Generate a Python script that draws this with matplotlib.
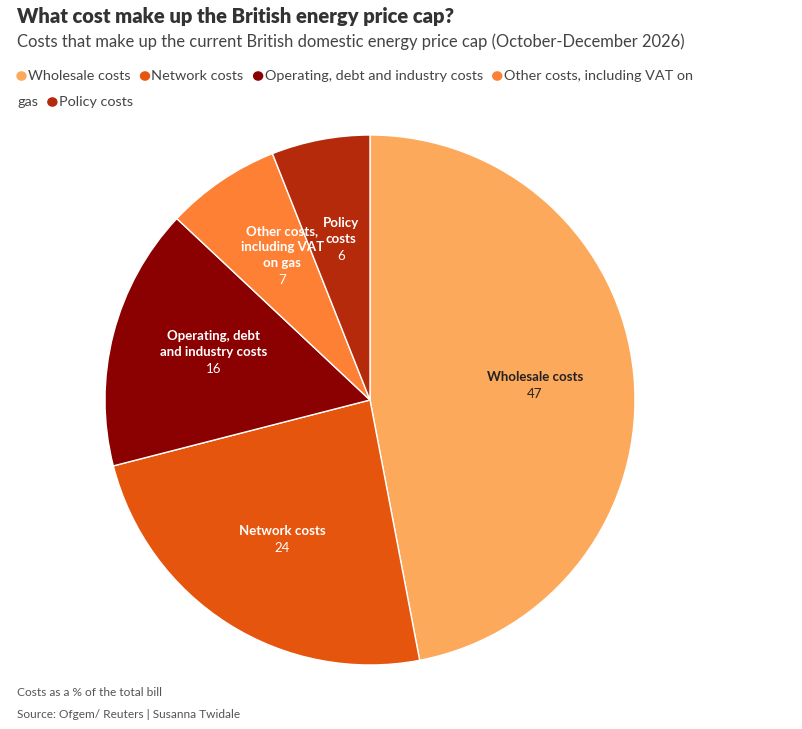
import numpy as np
import matplotlib
matplotlib.use("Agg")
import matplotlib.pyplot as plt

# Data
categories = ["Wholesale costs", "Network costs", "Operating, debt and industry costs",
              "Other costs, including VAT on gas", "Policy costs"]
slice_labels = ["Wholesale costs", "Network costs", "Operating, debt\nand industry costs",
                "Other costs,\nincluding VAT\non gas", "Policy\ncosts"]
values = [47, 24, 16, 7, 6]
colors = ["#FDA95B", "#E6550D", "#8B0000", "#FD8035", "#B52A0A"]
label_colors = ["#222222", "white", "white", "white", "white"]
label_radius = [0.625, 0.62, 0.61, 0.59, 0.59]

plt.rcParams['font.family'] = ['Lato', 'DejaVu Sans']

W, H = 803, 729
fig = plt.figure(figsize=(W / 100, H / 100), dpi=100)

# pie axes placed in pixel space
cx, cy, r = 370, 400, 265
ax = fig.add_axes([(cx - r) / W, 1 - (cy + r) / H, 2 * r / W, 2 * r / H])
wedges, _ = ax.pie(values, colors=colors, startangle=90, counterclock=False,
                   wedgeprops=dict(edgecolor="white", linewidth=1), radius=1)
ax.set_xlim(-1, 1)
ax.set_ylim(-1, 1)
ax.set_aspect("equal")

for w, lab, v, lc, lr in zip(wedges, slice_labels, values, label_colors, label_radius):
    ang = np.deg2rad((w.theta1 + w.theta2) / 2)
    x, y = lr * np.cos(ang), lr * np.sin(ang)
    ax.text(x, y + 0.005, lab, ha="center", va="bottom", color=lc, fontsize=9.5,
            fontweight="bold", linespacing=1.4)
    ax.text(x, y - 0.012, str(v), ha="center", va="top", color=lc, fontsize=9.5)

# titles
fig.text(17 / W, 1 - 17 / H, "What cost make up the British energy price cap?",
         fontsize=14.5, fontweight="heavy", color="#333333", va="center")
fig.text(17 / W, 1 - 42 / H,
         "Costs that make up the current British domestic energy price cap (October-December 2026)",
         fontsize=11.9, color="#444444", va="center")

# legend, laid out as flowing text
fig.canvas.draw()
renderer = fig.canvas.get_renderer()
legend_rows = [[(0, "Wholesale costs"), (1, "Network costs"),
                (2, "Operating, debt and industry costs"), (3, "Other costs, including VAT on")],
               [(None, "gas"), (4, "Policy costs")]]
row_y = [76, 102]
for row, yy in zip(legend_rows, row_y):
    xx = 17
    for idx, txt in row:
        if idx is not None:
            fig.patches.append(matplotlib.patches.Circle(
                ((xx + 4.5) / W, 1 - yy / H), 4.5 / W, transform=fig.transFigure,
                color=colors[idx], figure=fig))
            xx += 11
        t = fig.text(xx / W, 1 - yy / H, txt, fontsize=10.4, color="#444444", va="center")
        bb = t.get_window_extent(renderer)
        xx += bb.width + 10

# footer
fig.text(17 / W, 1 - 692 / H, "Costs as a % of the total bill", fontsize=8.6,
         color="#555555", va="center")
fig.text(17 / W, 1 - 715 / H, "Source: Ofgem/ Reuters | Susanna Twidale", fontsize=8.6,
         color="#555555", va="center")

fig.savefig("out.png", dpi=100)
